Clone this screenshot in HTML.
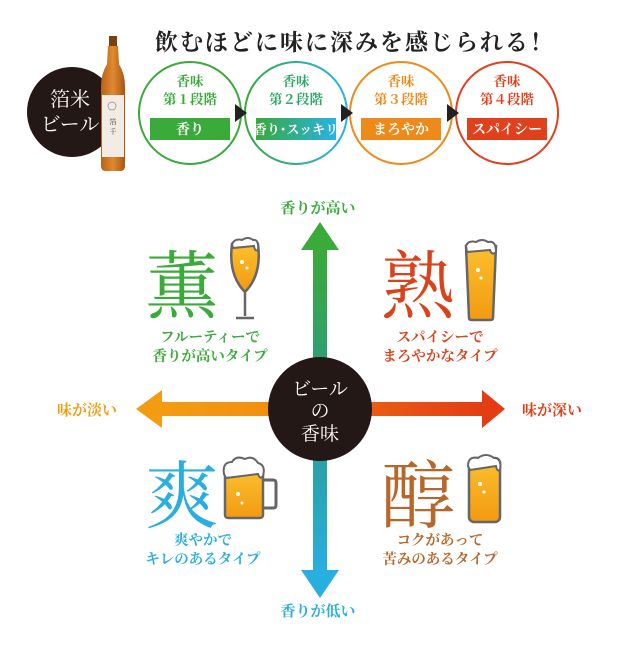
<!DOCTYPE html>
<html><head><meta charset="utf-8"><style>
html,body{margin:0;padding:0;background:#fff;}
svg{display:block;}
text{font-family:"Liberation Serif","Noto Serif CJK SC",serif;}
</style></head><body>
<svg width="640" height="652" viewBox="0 0 640 652" xmlns="http://www.w3.org/2000/svg">
<defs>
<linearGradient id="gv" x1="0" y1="0" x2="0" y2="1"><stop offset="0" stop-color="#3aaa3a"/><stop offset="0.5" stop-color="#2a9a8a"/><stop offset="1" stop-color="#29aee0"/></linearGradient>
<linearGradient id="gl" x1="0" y1="0" x2="1" y2="0"><stop offset="0" stop-color="#f39c12"/><stop offset="1" stop-color="#f08a10"/></linearGradient>
<linearGradient id="gr" x1="0" y1="0" x2="1" y2="0"><stop offset="0" stop-color="#ec6a14"/><stop offset="1" stop-color="#e43d14"/></linearGradient>
<linearGradient id="gt" x1="0" y1="0" x2="1" y2="0"><stop offset="0" stop-color="#39a83c"/><stop offset="1" stop-color="#28b3e4"/></linearGradient>
<linearGradient id="beer" x1="0" y1="0" x2="0" y2="1"><stop offset="0" stop-color="#fbc02d"/><stop offset="1" stop-color="#f39a12"/></linearGradient>
<linearGradient id="bot" x1="0" y1="0" x2="1" y2="0"><stop offset="0" stop-color="#b8621a"/><stop offset="0.5" stop-color="#e08a30"/><stop offset="1" stop-color="#a85514"/></linearGradient>
</defs>

<text x="355" y="50" font-size="23" font-weight="bold" fill="#222" text-anchor="middle" font-family="Noto Serif CJK SC,serif" letter-spacing="2">飲むほどに味に深みを感じられる！</text>

<circle cx="72" cy="112" r="45" fill="#231815"/>
<text x="70" y="106" font-size="20" fill="#fff" text-anchor="middle">箔米</text>
<text x="70" y="131" font-size="20" fill="#fff" text-anchor="middle">ビール</text>

<rect x="109" y="36" width="8" height="10" fill="#7a4010"/>
<path d="M108 46 L118 46 L119 64 Q125 74 125 86 L125 166 Q125 171 120 171 L106 171 Q101 171 101 166 L101 86 Q101 74 107 64 Z" fill="url(#bot)"/>
<rect x="102" y="95" width="22" height="62" fill="#f3ece4"/>
<circle cx="112" cy="106" r="4" fill="none" stroke="#888" stroke-width="0.7"/>
<text x="113" y="124" font-size="7" fill="#444" text-anchor="middle">箔</text>
<text x="113" y="134" font-size="7" fill="#444" text-anchor="middle">千</text>

<g font-family="Noto Serif CJK SC,serif" font-weight="bold" text-anchor="middle" font-size="13.5">
<circle cx="190" cy="113" r="51" fill="#fff" stroke="#3aaa3a" stroke-width="2"/>
<text x="190" y="86" fill="#3aaa3a">香味</text>
<text x="190" y="104" fill="#3aaa3a">第１段階</text>
<rect x="150" y="118" width="80" height="22" fill="#3aaa3a"/>
<text x="190" y="134" fill="#fff" font-size="14">香り</text>

<circle cx="296" cy="113" r="51" fill="#fff" stroke="url(#gt)" stroke-width="2"/>
<text x="296" y="86" fill="#2fa66a">香味</text>
<text x="296" y="104" fill="#2fa66a">第２段階</text>
<rect x="256" y="118" width="80" height="22" fill="url(#gt)"/>
<text x="296" y="134" fill="#fff" font-size="13">香り･スッキリ</text>

<circle cx="401" cy="113" r="51" fill="#fff" stroke="#ee8a1a" stroke-width="2"/>
<text x="401" y="86" fill="#ee8a1a">香味</text>
<text x="401" y="104" fill="#ee8a1a">第３段階</text>
<rect x="361" y="118" width="80" height="22" fill="#ee8a1a"/>
<text x="401" y="134" fill="#fff" font-size="14">まろやか</text>

<circle cx="507" cy="113" r="51" fill="#fff" stroke="#e0401c" stroke-width="2"/>
<text x="507" y="86" fill="#e0401c">香味</text>
<text x="507" y="104" fill="#e0401c">第４段階</text>
<rect x="467" y="118" width="80" height="22" fill="#e0401c"/>
<text x="507" y="134" fill="#fff" font-size="14">スパイシー</text>
</g>
<polygon points="235,104 247,113 235,122" fill="#222"/>
<polygon points="341,104 353,113 341,122" fill="#222"/>
<polygon points="447,104 459,113 447,122" fill="#222"/>

<rect x="313" y="250" width="14" height="320" fill="url(#gv)"/>
<polygon points="320,222 339,250 301,250" fill="#3aaa3a"/>
<polygon points="320,598 339,570 301,570" fill="#29aee0"/>
<rect x="162" y="402" width="158" height="14" fill="url(#gl)"/>
<polygon points="136,409 162,390 162,428" fill="#f39c12"/>
<rect x="320" y="402" width="162" height="14" fill="url(#gr)"/>
<polygon points="505,409 482,390 482,428" fill="#e43d14"/>
<circle cx="320" cy="409" r="52" fill="#231815"/>
<g fill="#fff" font-size="19" text-anchor="middle">
<text x="320" y="395">ビール</text>
<text x="320" y="417">の</text>
<text x="320" y="440">香味</text>
</g>

<g font-size="15" font-weight="bold" text-anchor="middle" font-family="Noto Serif CJK SC,serif">
<text x="318" y="213" fill="#3aaa3a">香りが高い</text>
<text x="318" y="616" fill="#29aee0">香りが低い</text>
<text x="87" y="415" fill="#f39c12">味が淡い</text>
<text x="552" y="415" fill="#e43d14">味が深い</text>
</g>

<g font-family="Noto Serif CJK SC,serif" text-anchor="middle">
<text x="182" y="312" font-size="74" fill="#3aaa3a">薫</text>
<text x="418" y="312" font-size="74" fill="#d9431c">熟</text>
<text x="182" y="522" font-size="74" fill="#2aaee0">爽</text>
<text x="418" y="522" font-size="74" fill="#b7672a">醇</text>
<g font-size="14.5" font-weight="bold">
<text x="210" y="342" fill="#3aaa3a">フルーティーで</text>
<text x="210" y="361" fill="#3aaa3a">香りが高いタイプ</text>
<text x="440" y="342" fill="#d9431c">スパイシーで</text>
<text x="440" y="361" fill="#d9431c">まろやかなタイプ</text>
<text x="203" y="545" fill="#2aaee0">爽やかで</text>
<text x="203" y="564" fill="#2aaee0">キレのあるタイプ</text>
<text x="440" y="545" fill="#b7672a">コクがあって</text>
<text x="440" y="564" fill="#b7672a">苦みのあるタイプ</text>
</g>
</g>

<g stroke="#666" stroke-width="2.5" fill="none">
<path d="M232 244 L258 244 Q262 275 245 292 Q228 275 232 244 Z" fill="url(#beer)"/>
<path d="M245 292 L245 316 M236 318 L254 318"/>
</g>
<path d="M232 244 Q235 238 242 240 Q248 236 253 240 Q259 239 258 250 Q255 252 254 246 L233 248 Z" fill="#fff" stroke="#666" stroke-width="2"/>
<circle cx="242" cy="262" r="2" fill="#fff"/><circle cx="247" cy="268" r="1.5" fill="#fff"/>

<path d="M466 246 L496 246 L493 318 Q493 320 490 320 L472 320 Q469 320 469 318 Z" fill="url(#beer)" stroke="#666" stroke-width="2.5"/>
<path d="M466 246 Q468 240 476 242 Q482 238 488 242 Q496 240 496 252 Q492 256 490 250 L467 252 Z" fill="#fff" stroke="#666" stroke-width="2"/>
<circle cx="478" cy="270" r="2" fill="#fff"/><circle cx="481" cy="278" r="1.5" fill="#fff"/>

<path d="M263 480 L273 480 Q276 480 276 483 L276 505 Q276 508 273 508 L263 508" fill="none" stroke="#666" stroke-width="3"/>
<rect x="225" y="470" width="38" height="48" rx="3" fill="url(#beer)" stroke="#666" stroke-width="2.5"/>
<path d="M224 474 Q222 462 232 462 Q236 455 245 459 Q253 455 258 463 Q266 465 263 476 Q260 480 258 474 L226 478 Z" fill="#fff" stroke="#666" stroke-width="2"/>
<circle cx="238" cy="494" r="2" fill="#fff"/><circle cx="242" cy="503" r="1.5" fill="#fff"/>

<rect x="469" y="458" width="31" height="64" rx="5" fill="url(#beer)" stroke="#666" stroke-width="2.5"/>
<path d="M468 466 Q468 456 478 458 Q486 452 494 458 Q502 458 500 470 Q497 472 496 466 L470 470 Z" fill="#fff" stroke="#666" stroke-width="2"/>
<circle cx="480" cy="484" r="2" fill="#fff"/><circle cx="484" cy="492" r="1.5" fill="#fff"/>
</svg>
</body></html>
